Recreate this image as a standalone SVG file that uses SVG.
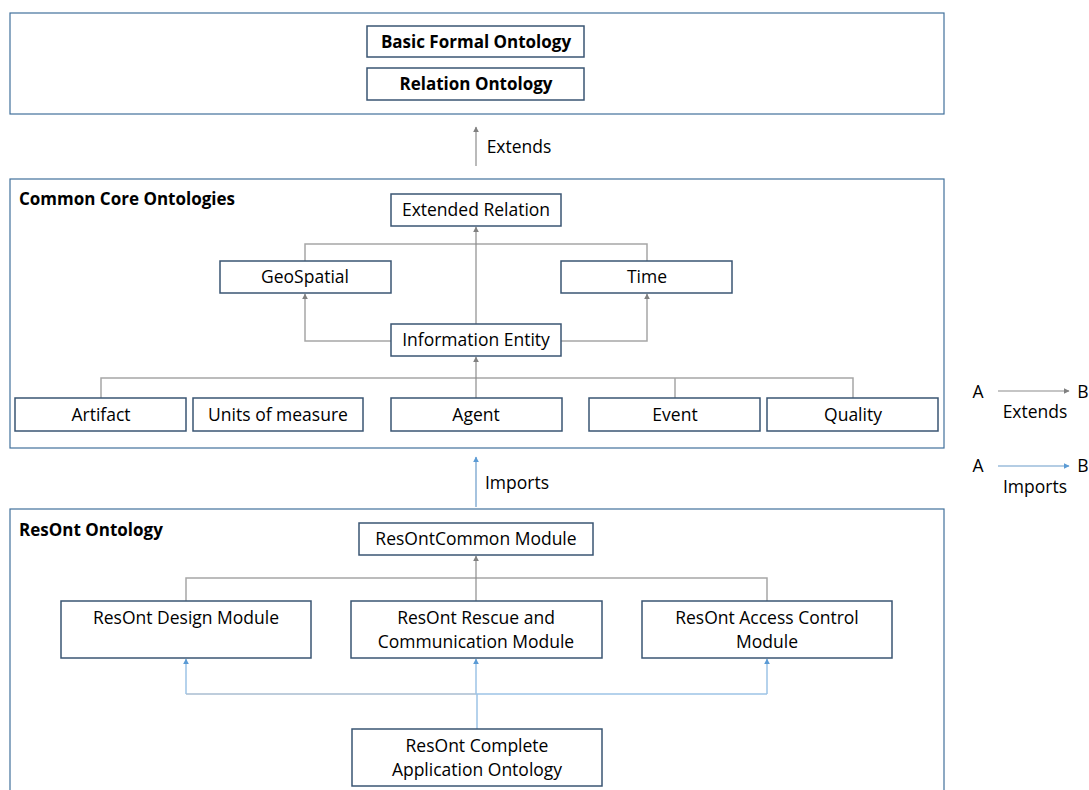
<svg xmlns="http://www.w3.org/2000/svg" width="1089" height="790" viewBox="0 0 1089 790">
<defs>
<marker id="ax" viewBox="0 0 10 10" refX="9" refY="5" markerWidth="6" markerHeight="6" orient="auto-start-reverse" markerUnits="userSpaceOnUse"><path d="M0,0 L10,5 L0,10 z" fill="#808080"/></marker>
<marker id="ai" viewBox="0 0 10 10" refX="9" refY="5" markerWidth="6" markerHeight="6" orient="auto-start-reverse" markerUnits="userSpaceOnUse"><path d="M0,0 L10,5 L0,10 z" fill="#5b9bd5"/></marker>
<style>
.cont{fill:#fff;stroke:#41719c;stroke-width:1.2}
.node{fill:#fff;stroke:#3a5573;stroke-width:1.5}
.t{font-family:"Open Sans","Noto Sans",sans-serif;font-size:17.5px;fill:#000;text-anchor:middle}
.b{font-weight:bold;font-size:17px}
.title{font-family:"Open Sans","Noto Sans",sans-serif;font-size:17px;font-weight:bold;fill:#000}
.ext{fill:none;stroke:#a6a6a6;stroke-width:1.5}
.exd{fill:none;stroke:#8c8c8c;stroke-width:1.2}
.imp{fill:none;stroke:#9dc3e6;stroke-width:1.5}
.imd{fill:none;stroke:#6a9bc9;stroke-width:1.2}
</style>
</defs>
<rect width="1089" height="790" fill="#fff"/>

<g id="containers">
<rect id="top-box" class="cont" x="10" y="13" width="934" height="101"/>
<rect id="cco-box" class="cont" x="10" y="179" width="934" height="269"/>
<rect id="resont-box" class="cont" x="10" y="509" width="934" height="290"/>
<text class="title" x="19" y="205">Common Core Ontologies</text>
<text class="title" x="19" y="536">ResOnt Ontology</text>
</g>

<g id="connectors">
<line class="exd" x1="476" y1="166" x2="476" y2="127" marker-end="url(#ax)"/>
<text class="t" x="519" y="153">Extends</text>
<polyline class="ext" points="305,262 305,244 647,244 647,262"/>
<line class="exd" x1="476" y1="324" x2="476" y2="227" marker-end="url(#ax)"/>
<polyline class="ext" points="391,341 305,341 305,294" marker-end="url(#ax)"/>
<polyline class="ext" points="561,341 647,341 647,294" marker-end="url(#ax)"/>
<polyline class="ext" points="101,398 101,378 853,378 853,398"/>
<line class="ext" x1="675" y1="378" x2="675" y2="398"/>
<line class="exd" x1="476" y1="398" x2="476" y2="357" marker-end="url(#ax)"/>
<line class="imd" x1="476" y1="507" x2="476" y2="457" marker-end="url(#ai)"/>
<text class="t" x="517" y="489">Imports</text>
<polyline class="ext" points="186,601 186,578 767,578 767,601"/>
<line class="exd" x1="476" y1="601" x2="476" y2="556" marker-end="url(#ax)"/>
<polyline class="imp" points="186,694 476,694" style="stroke:#a9bdd0"/>
<polyline class="imp" points="476,694 767,694"/>
<line class="imp" x1="186" y1="694" x2="186" y2="659" marker-end="url(#ai)"/>
<line class="imp" x1="767" y1="694" x2="767" y2="659" marker-end="url(#ai)"/>
<line class="imp" x1="476" y1="694" x2="476" y2="659" marker-end="url(#ai)"/>
<line class="imp" x1="477" y1="729" x2="477" y2="694"/>
</g>

<g id="n-bfo"><rect class="node" x="367" y="26" width="217" height="31"/><text class="t b" x="476" y="48">Basic Formal Ontology</text></g>
<g id="n-ro"><rect class="node" x="367" y="68" width="217" height="32"/><text class="t b" x="476" y="90">Relation Ontology</text></g>

<g id="n-extrel"><rect class="node" x="391" y="194" width="170" height="32"/><text class="t" x="476" y="216">Extended Relation</text></g>
<g id="n-geo"><rect class="node" x="220" y="261" width="171" height="32"/><text class="t" x="305" y="283">GeoSpatial</text></g>
<g id="n-time"><rect class="node" x="561" y="261" width="171" height="32"/><text class="t" x="647" y="283">Time</text></g>
<g id="n-ie"><rect class="node" x="391" y="324" width="170" height="32"/><text class="t" x="476" y="346">Information Entity</text></g>
<g id="n-artifact"><rect class="node" x="15" y="398" width="171" height="33"/><text class="t" x="101" y="421">Artifact</text></g>
<g id="n-units"><rect class="node" x="193" y="398" width="170" height="33"/><text class="t" x="278" y="421">Units of measure</text></g>
<g id="n-agent"><rect class="node" x="391" y="398" width="171" height="33"/><text class="t" x="476" y="421">Agent</text></g>
<g id="n-event"><rect class="node" x="589" y="398" width="171" height="33"/><text class="t" x="675" y="421">Event</text></g>
<g id="n-quality"><rect class="node" x="767" y="398" width="171" height="33"/><text class="t" x="853" y="421">Quality</text></g>

<g id="n-common"><rect class="node" x="359" y="523" width="234" height="32"/><text class="t" x="476" y="545">ResOntCommon Module</text></g>
<g id="n-design"><rect class="node" x="61" y="601" width="250" height="57"/><text class="t" x="186" y="624">ResOnt Design Module</text></g>
<g id="n-rescue"><rect class="node" x="351" y="601" width="251" height="57"/><text class="t" x="476" y="624">ResOnt Rescue and</text><text class="t" x="476" y="648">Communication Module</text></g>
<g id="n-access"><rect class="node" x="642" y="601" width="250" height="57"/><text class="t" x="767" y="624">ResOnt Access Control</text><text class="t" x="767" y="648">Module</text></g>
<g id="n-complete"><rect class="node" x="352" y="729" width="250" height="57"/><text class="t" x="477" y="752">ResOnt Complete</text><text class="t" x="477" y="776">Application Ontology</text></g>

<g id="legend">
<text class="t" x="978" y="398">A</text>
<line class="exd" x1="998" y1="391" x2="1069" y2="391" marker-end="url(#ax)"/>
<text class="t" x="1083" y="398">B</text>
<text class="t" x="1035" y="418">Extends</text>
<text class="t" x="978" y="472">A</text>
<line class="imd" x1="998" y1="466" x2="1069" y2="466" marker-end="url(#ai)"/>
<text class="t" x="1083" y="472">B</text>
<text class="t" x="1035" y="493">Imports</text>
</g>
</svg>
